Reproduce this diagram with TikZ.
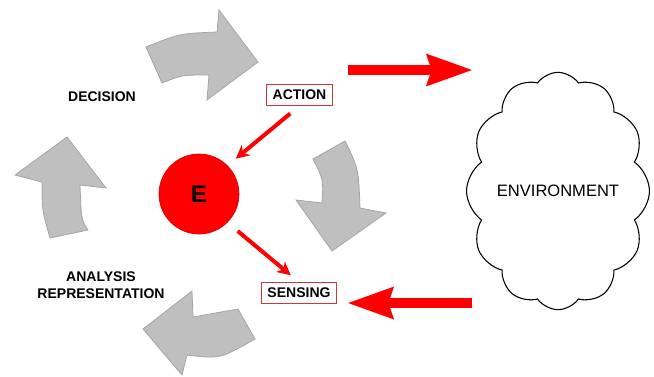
\documentclass[tikz,border=0pt]{standalone}
\usepackage{fontspec}
\setmainfont{Liberation Sans}
\usetikzlibrary{arrows.meta,shapes.symbols}

\definecolor{arrowgray}{RGB}{191,191,191}
\definecolor{edgegray}{RGB}{165,165,165}
\definecolor{boxred}{RGB}{205,55,55}

\tikzset{every picture/.style={line width=0.75pt}}
\tikzset{
  grayarrow/.style={fill=arrowgray, draw=edgegray, line width=0.6pt},
  labelbox/.style={draw=boxred, line width=0.8pt, inner xsep=4.5pt, minimum height=15.5pt, font=\fontsize{10.5}{12}\selectfont\bfseries},
  steplabel/.style={inner sep=0.75pt, font=\fontsize{10.5}{12.5}\selectfont\bfseries, align=center},
  fatarrow/.style={red, line width=7.5pt, -{Stealth[length=34pt, width=22.5pt, inset=3pt]}},
  thinarrow/.style={red, line width=3pt, -{Stealth[length=10pt, width=10pt, inset=3pt]}},
}

\begin{document}
\begin{tikzpicture}[x=0.75pt,y=0.75pt,yscale=-1,xscale=1]
\useasboundingbox (0,0) rectangle (654,376);

%Curved Arrow (top)
\draw [grayarrow] (146,47) .. controls (179.5,33.5) .. (217,32) -- (219,10) -- (258,62) -- (207,100) -- (209,75) .. controls (182,75) .. (162,83) -- cycle ;
%Curved Arrow (right)
\draw [grayarrow] (345,141) .. controls (358.5,168.5) .. (360,208) -- (386,213) -- (332,251) -- (296,200) -- (322,203) .. controls (323.5,179.7) .. (313,159) -- cycle ;
%Curved Arrow (bottom)
\draw [grayarrow] (255,339) .. controls (219.7,359) .. (187,355) -- (182,375) -- (143,329) -- (192,291) -- (193,317) .. controls (214.8,313) .. (238,309) -- cycle ;
%Curved Arrow (left)
\draw [grayarrow] (50,238) .. controls (42,210) .. (42,182) -- (15,175) -- (67,137) -- (106,188) -- (80,185) .. controls (81.3,220) .. (88,230) -- cycle ;

% Circle E
\draw (199,194) node [circle, fill=red, draw=red!85!black, line width=0.5pt, minimum size=60pt, inner sep=0pt, font=\fontsize{18}{20}\selectfont\bfseries] (E) {E};

% Text Node
\draw (299.5,95) node [labelbox] (action) {ACTION};
% Text Node
\draw (299,293) node [labelbox] (sensing) {SENSING};
% Text Node
\draw (102,97) node [steplabel] (decision) {DECISION};
% Text Node
\draw (101,285) node [steplabel] (analysis) {ANALYSIS\\REPRESENTATION};

% Cloud
\draw (558,191) node [cloud, draw, cloud puffs=12, cloud puff arc=110, cloud ignores aspect, minimum width=136pt, minimum height=178pt, line width=0.8pt, font=\fontsize{12.4}{14}\selectfont] (env) {ENVIRONMENT};

%Block Arrows
\coordinate (outstart) at (348,70);
\coordinate (outend) at (473,70);
\coordinate (instart) at (472,303);
\coordinate (inend) at (347,303);
\draw [fatarrow] (outstart) -- (outend) ;
\draw [fatarrow] (instart) -- (inend) ;

%Small Arrows
\draw [thinarrow, shorten <=9pt, shorten >=8pt] (action.south) -- (E.north east) ;
\draw [thinarrow, shorten <=10pt, shorten >=8pt] (E.south east) -- (sensing.north) ;

\end{tikzpicture}
\end{document}
